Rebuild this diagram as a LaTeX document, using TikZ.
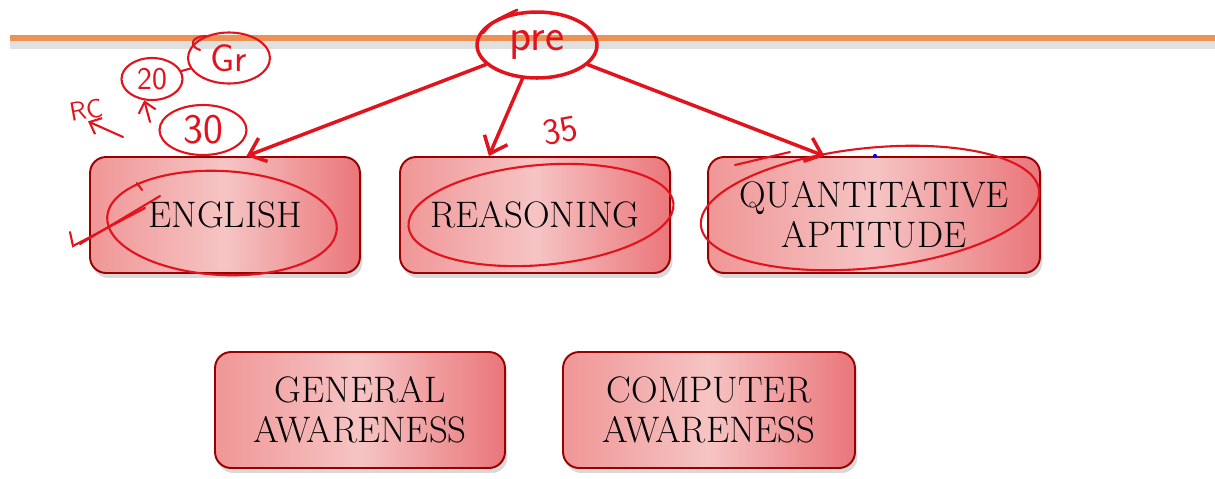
\documentclass[tikz,border=0pt]{standalone}
\usepackage{tikz}
\usetikzlibrary{shapes,shadows,arrows.meta}
\definecolor{rulecol}{RGB}{238,145,85}
\definecolor{ink}{RGB}{225,20,30}
\definecolor{boxleft}{RGB}{240,150,150}
\definecolor{boxmid}{RGB}{246,196,196}
\definecolor{boxright}{RGB}{234,118,122}

\begin{document}
\begin{tikzpicture}[x=0.02cm,y=-0.02cm,
    topic/.style={rectangle,rounded corners=0.32cm,draw=red!60!black,line width=1.1pt,
      left color=boxleft,right color=boxright,middle color=boxmid,
      minimum width=5.4cm,minimum height=2.32cm,align=center,
      font=\fontsize{21}{22.5}\selectfont,
      drop shadow={opacity=0.3,shadow xshift=0.05cm,shadow yshift=-0.1cm}},
    pen/.style={draw=ink,line width=2pt,line cap=round},
    thinpen/.style={draw=ink,line width=1.2pt,line cap=round},
    note/.style={ellipse,thinpen,text=ink,inner sep=0pt,font=\sffamily\fontsize{22}{22}\selectfont},
    tip/.style={-{Straight Barb[length=3mm,width=5mm]}},
    smalltip/.style={-{Straight Barb[length=2mm,width=3.5mm]}}]
    \useasboundingbox (0,0) rectangle (1215,478);
    \draw[black!12,line width=5pt] (10,45) -- (1215,45);
    \draw[rulecol,line width=3pt] (10,38) -- (1215,38);
    \node[topic] (eng) at (225,215) {ENGLISH};
    \node[topic] (rea) at (535,215) {REASONING};
    \node[topic,minimum width=6.64cm] (qa) at (874,215) {QUANTITATIVE\\APTITUDE};
    \node[topic,minimum width=5.8cm] (ga) at (360,410) {GENERAL\\AWARENESS};
    \node[topic,minimum width=5.84cm] (ca) at (709,410) {COMPUTER\\AWARENESS};
    \node[note,pen,minimum width=2.4cm,minimum height=1.32cm,font=\sffamily\fontsize{26}{26}\selectfont] (pre) at (537,45) {pre};
    \draw[thinpen,line width=1.6pt] (483,33) .. controls (492,22) .. (517,10);
    \draw[pen,tip] (pre) -- (eng.70);
    \draw[pen,tip] (pre) -- (rea.128);
    \draw[pen,tip] (pre) -- (qa.130);
    \node[note,minimum width=1.64cm,minimum height=1.02cm] (gr) at (229,58) {Gr};
    \draw[thinpen] (200,50) .. controls (188,46) and (192,36) .. (206,36);
    \node[note,minimum width=1.22cm,minimum height=0.84cm,font=\sffamily\fontsize{18}{18}\selectfont] (tw) at (152,79) {20};
    \draw[thinpen] (tw) -- (gr);
    \coordinate (twfrom) at (150,122);
    \draw[thinpen,smalltip] (twfrom) -- (tw.250);
    \node[note,minimum width=1.74cm,minimum height=1cm,font=\sffamily\fontsize{24}{24}\selectfont] (thirty) at (203,130) {30};
    \node[text=ink,rotate=10,inner sep=1pt,font=\sffamily\fontsize{15}{15}\selectfont] (rc) at (86,110) {RC};
    \coordinate (rcfrom) at (123,137);
    \draw[thinpen,smalltip] (rcfrom) -- (rc.south);
    \node[text=ink,rotate=10,font=\sffamily\fontsize{21}{21}\selectfont] (tf) at (560,131) {35};
    \draw[thinpen] (eng.center) ++(-3,8) ellipse[x radius=2.3cm,y radius=1.04cm,rotate=-3];
    \draw[thinpen] (70,232) -- (73,246) -- (145,208);
    \draw[thinpen] (80,244) -- (160,196);
    \draw[thinpen] (137,183) -- (142,190);
    \draw[thinpen] (rea.center) ++(6,0) ellipse[x radius=2.66cm,y radius=1cm,rotate=5];
    \draw[thinpen] (qa.center) ++(-4,-7) ellipse[x radius=3.4cm,y radius=1.2cm,rotate=6];
    \draw[thinpen] (735,165) -- (790,152);
    \fill[blue] (875,156) circle (1.2pt);
\end{tikzpicture}
\end{document}
